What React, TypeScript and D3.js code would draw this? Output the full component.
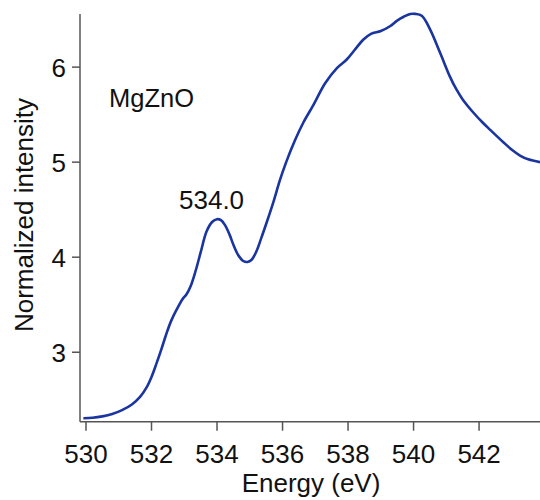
import React from "react";
import * as d3 from "d3";

const energy = [529.92,530.2,530.5,530.8,531.1,531.4,531.65,531.85,532.0,532.15,532.3,532.46,532.6,532.77,532.95,533.07,533.2,533.35,533.5,533.68,533.85,534.0,534.12,534.24,534.38,534.5,534.65,534.8,534.93,535.05,535.2,535.35,535.52,535.72,535.92,536.1,536.38,536.64,536.94,537.3,537.66,537.96,538.2,538.47,538.7,539.0,539.28,539.5,539.7,539.9,540.05,540.25,540.5,540.81,541.11,541.3,541.5,541.83,542.1,542.34,542.74,543.0,543.25,543.5,543.86];
const intensity = [2.305,2.31,2.325,2.35,2.39,2.45,2.53,2.63,2.74,2.88,3.03,3.2,3.33,3.45,3.56,3.61,3.7,3.86,4.05,4.27,4.37,4.4,4.39,4.34,4.24,4.13,4.02,3.96,3.95,3.97,4.06,4.2,4.37,4.58,4.81,4.99,5.23,5.42,5.6,5.83,5.99,6.08,6.18,6.29,6.35,6.38,6.43,6.49,6.53,6.56,6.56,6.54,6.4,6.15,5.9,5.77,5.66,5.52,5.42,5.34,5.21,5.13,5.07,5.03,5.0];
const xTicks = [530, 532, 534, 536, 538, 540, 542];
const yTicks = [3, 4, 5, 6];

export default function App() {
  const W = 540, H = 500;
  const left = 80, right = 540, top = 14, bottom = 421.7;
  const x = d3.scaleLinear().domain([529.817, 543.86]).range([left, right]);
  const y = d3.scaleLinear().domain([2.269, 6.559]).range([bottom, top]);
  const pts = energy.map((e, i) => [e, intensity[i]] as [number, number]);
  const line = d3.line<[number, number]>().x(d => x(d[0])).y(d => y(d[1])).curve(d3.curveCatmullRom.alpha(0.5));
  const font = "'Liberation Sans', Arial, sans-serif";
  const axisColor = "#555";
  return (
    <svg width={W} height={H} style={{ position: "absolute", left: 0, top: 0 }} fontFamily={font}>
      <rect width={W} height={H} fill="#fff" />
      <path d={line(pts) || ""} fill="none" stroke="#1a35a0" strokeWidth={2.6} strokeLinejoin="round" />
      <line x1={left} x2={left} y1={top} y2={bottom} stroke={axisColor} strokeWidth={1.5} />
      <line x1={left} x2={right} y1={bottom} y2={bottom} stroke={axisColor} strokeWidth={1.5} />
      {xTicks.map(t => (
        <g key={t}>
          <line x1={x(t)} x2={x(t)} y1={bottom} y2={bottom + 9} stroke={axisColor} strokeWidth={1.5} />
          <text x={x(t)} y={463} fontSize={26} textAnchor="middle" fill="#111">{t}</text>
        </g>
      ))}
      {yTicks.map(t => (
        <g key={t}>
          <line x1={left - 8} x2={left} y1={y(t)} y2={y(t)} stroke={axisColor} strokeWidth={1.5} />
          <text x={66} y={y(t) + 9.5} fontSize={26} textAnchor="end" fill="#111">{t}</text>
        </g>
      ))}
      <text x={311} y={492} fontSize={26} textAnchor="middle" fill="#111">Energy (eV)</text>
      <text transform={`translate(33,215) rotate(-90)`} fontSize={26} textAnchor="middle" fill="#111">Normalized intensity</text>
      <text x={109} y={107} fontSize={25.5} fill="#111">MgZnO</text>
      <text x={179} y={209} fontSize={26} fill="#111">534.0</text>
    </svg>
  );
}
